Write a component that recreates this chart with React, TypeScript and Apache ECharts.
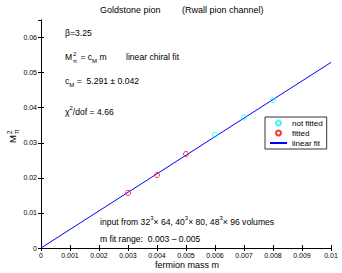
import React, { useEffect, useRef } from "react";
import * as echarts from "echarts";

const notFittedMass = [0.006, 0.007, 0.008];
const notFittedM2 = [0.0323, 0.0372, 0.0421];
const fittedMass = [0.003, 0.004, 0.005];
const fittedM2 = [0.0157, 0.0208, 0.0268];
const fitSlope = 5.291;
const fitMass = [0, 0.01];
const xTicks = ["0", "0.001", "0.002", "0.003", "0.004", "0.005", "0.006", "0.007", "0.008", "0.009", "0.01"];

const FONT = "Liberation Sans, Arial, sans-serif";

export default function App() {
  const ref = useRef<HTMLDivElement>(null);
  useEffect(() => {
    if (!ref.current) return;
    const chart = echarts.init(ref.current, null, { renderer: "svg" });
    const axisCommon = {
      axisLine: { show: true, lineStyle: { color: "#000", width: 1 } },
      axisTick: { show: true, inside: true, length: 3, lineStyle: { color: "#000" } },
      splitLine: { show: false },
    };
    const FS = 8.6;
    const base = { fontSize: FS, fontFamily: FONT, lineHeight: 14 };
    const richSet = {
      b: base,
      sub: { fontSize: 6, fontFamily: FONT, verticalAlign: "bottom", lineHeight: 14, padding: [5, 0, 0, 0] },
      sup: { fontSize: 6, fontFamily: FONT, verticalAlign: "top", lineHeight: 14, padding: [0, 0, 5, 0] },
    };
    const txt = (x: number, y: number, text: string, rich?: any, size = FS) => ({
      type: "text",
      x,
      y,
      style: {
        text,
        fill: "#000",
        fontSize: size,
        fontFamily: FONT,
        verticalAlign: "middle",
        align: "left",
        rich,
      },
    });
    chart.setOption({
      animation: false,
      grid: { left: 41, right: 11, top: 20, bottom: 25 },
      xAxis: [
        {
          type: "value",
          min: 0,
          max: 0.01,
          interval: 0.001,
          ...axisCommon,
          axisLabel: {
            fontSize: 7,
            fontFamily: FONT,
            color: "#000",
            margin: 4,
            formatter: (v: number) => xTicks[Math.round(v * 1000)] ?? "",
          },
        },
        {
          type: "value",
          position: "top",
          min: 0,
          max: 0.01,
          interval: 0.001,
          ...axisCommon,
          axisLabel: { show: false },
        },
      ],
      yAxis: [
        {
          type: "value",
          min: 0,
          max: 0.065,
          interval: 0.01,
          ...axisCommon,
          axisLabel: {
            fontSize: 7,
            fontFamily: FONT,
            color: "#000",
            margin: 4,
            showMaxLabel: false,
            formatter: (v: number) => (v === 0 ? "0" : String(Number(v.toFixed(2)))),
          },
        },
        {
          type: "value",
          position: "right",
          min: 0,
          max: 0.065,
          interval: 0.01,
          ...axisCommon,
          axisLabel: { show: false },
        },
      ],
      legend: {
        left: 265,
        top: 117,
        orient: "vertical",
        backgroundColor: "#fff",
        borderColor: "#000",
        borderWidth: 0.8,
        padding: [2, 4, 2, 4],
        itemGap: 2,
        itemWidth: 17,
        itemHeight: 5,
        textStyle: { fontSize: 8, fontFamily: FONT, color: "#000" },
        data: [
          { name: "not fitted" },
          { name: "fitted" },
          { name: "linear fit", itemStyle: { opacity: 0 } },
        ],
      },
      series: [
        {
          name: "not fitted",
          type: "scatter",
          symbol: "circle",
          symbolSize: 5,
          itemStyle: { color: "rgba(255,255,255,0)", borderColor: "#00ffff", borderWidth: 1 },
          data: notFittedMass.map((m, i) => [m, notFittedM2[i]]),
          z: 3,
        },
        {
          name: "fitted",
          type: "scatter",
          symbol: "circle",
          symbolSize: 5,
          itemStyle: { color: "rgba(255,255,255,0)", borderColor: "#ff0000", borderWidth: 1 },
          data: fittedMass.map((m, i) => [m, fittedM2[i]]),
          z: 3,
        },
        {
          name: "linear fit",
          type: "line",
          symbol: "none",
          lineStyle: { color: "#0000ff", width: 1 },
          itemStyle: { color: "#0000ff" },
          data: fitMass.map((m) => [m, fitSlope * m]),
          z: 2,
        },
      ],
      graphic: [
        txt(100, 10, "Goldstone pion", undefined, 9),
        txt(182, 10, "(Rwall pion channel)", undefined, 9),
        txt(65, 33, "β=3.25"),
        txt(65, 57, "M"),
        txt(73, 54, "2", undefined, 6),
        txt(73, 61, "π", undefined, 6),
        txt(78, 57, "{b| = c}{sub|M}{b| m}", richSet),
        txt(126, 57, "linear chiral fit"),
        txt(65, 81, "{b|c}{sub|M}{b| =  5.291 ± 0.042}", richSet),
        txt(65, 112, "{b|χ}{sup|2}{b|/dof = 4.66}", richSet),
        txt(100, 222, "{b|input from 32}{sup|3}{b|× 64, 40}{sup|3}{b|× 80, 48}{sup|3}{b|× 96 volumes}", richSet),
        txt(100, 239, "m fit range:  0.003 – 0.005"),
        {
          type: "text",
          x: 187,
          y: 265,
          style: {
            text: "fermion mass m",
            fill: "#000",
            fontSize: 9,
            fontFamily: FONT,
            align: "center",
            verticalAlign: "middle",
          },
        },
        {
          type: "group",
          x: 12,
          y: 134,
          rotation: Math.PI / 2,
          children: [
            {
              type: "text",
              x: -1,
              y: 0,
              style: { text: "M", fill: "#000", fontSize: 9.5, fontFamily: FONT, align: "right", verticalAlign: "middle" },
            },
            {
              type: "text",
              x: 0,
              y: -3,
              style: { text: "2", fill: "#000", fontSize: 6.5, fontFamily: FONT, align: "left", verticalAlign: "middle" },
            },
            {
              type: "text",
              x: 0,
              y: 4,
              style: { text: "π", fill: "#000", fontSize: 6.5, fontFamily: FONT, align: "left", verticalAlign: "middle" },
            },
          ],
        },
      ],
    });
    return () => chart.dispose();
  }, []);
  return <div ref={ref} style={{ width: 342, height: 273, position: "absolute", left: 0, top: 0, background: "#fff" }} />;
}
